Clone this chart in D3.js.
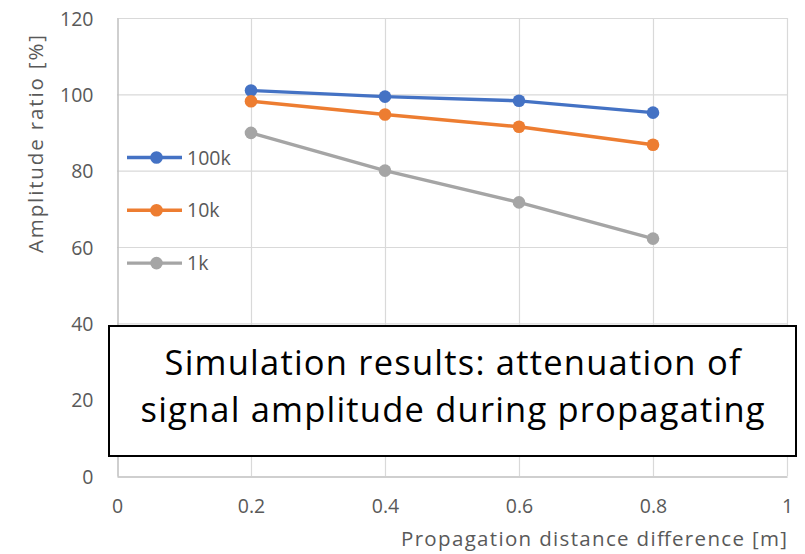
<!DOCTYPE html>
<html>
<head>
<meta charset="utf-8">
<script src="https://cdn.jsdelivr.net/npm/d3@7"></script>
<style>
  html, body { margin: 0; padding: 0; background: #fff; }
  svg { display: block; }
</style>
</head>
<body>
<svg id="chart" width="805" height="554"></svg>
<script>
// Propagation distance difference [m]
const distances = [0.2, 0.4, 0.6, 0.8];
// Amplitude ratio [%] per frequency
const amp100k = [101.0, 99.4, 98.3, 95.2];
const amp10k  = [98.2, 94.7, 91.5, 86.8];
const amp1k   = [89.9, 80.0, 71.7, 62.2];
const seriesNames = ["100k", "10k", "1k"];
const seriesColors = ["#4472C4", "#ED7D31", "#A5A5A5"];
const xTicks = [0, 0.2, 0.4, 0.6, 0.8, 1];
const yTicks = [0, 20, 40, 60, 80, 100, 120];
const titleLines = ["Simulation results: attenuation of", "signal amplitude during propagating"];

const series = [amp100k, amp10k, amp1k].map((vals, i) => ({
  name: seriesNames[i],
  color: seriesColors[i],
  points: vals.map((v, j) => ({ x: distances[j], y: v }))
}));

const svg = d3.select("#chart");
const font = "'Open Sans', 'Noto Sans', sans-serif";
const plotLeft = 117, plotRight = 787, plotTop = 18, plotBottom = 476;

const x = d3.scaleLinear().domain([0, 1]).range([plotLeft, plotRight]);
const y = d3.scaleLinear().domain([0, 120]).range([plotBottom, plotTop]);

// gridlines
const grid = svg.append("g");
grid.selectAll("line.h").data(yTicks.filter(t => t > 0)).join("line")
  .attr("x1", plotLeft).attr("x2", plotRight)
  .attr("y1", d => y(d) + 0.5).attr("y2", d => y(d) + 0.5)
  .attr("stroke", "#d9d9d9").attr("stroke-width", 1.2);
grid.selectAll("line.v").data(xTicks.filter(t => t > 0)).join("line")
  .attr("x1", d => Math.round(x(d)) + 0.5).attr("x2", d => Math.round(x(d)) + 0.5)
  .attr("y1", plotTop).attr("y2", plotBottom)
  .attr("stroke", "#d9d9d9").attr("stroke-width", 1.2);

// axes
const xAxis = d3.axisBottom(x).tickValues(xTicks).tickSize(0).tickPadding(22)
  .tickFormat(d => d3.format("")(d));
const yAxis = d3.axisLeft(y).tickValues(yTicks).tickSize(0).tickPadding(12);

const gx = svg.append("g").attr("transform", `translate(0,${plotBottom + 0.5})`).call(xAxis);
const gy = svg.append("g").attr("transform", `translate(${plotLeft + 0.5},0)`).call(yAxis);
[gx, gy].forEach(g => {
  g.select(".domain").attr("stroke", "#bfbfbf").attr("stroke-width", 1.5);
  g.selectAll("text").attr("fill", "#595959").attr("font-family", font).attr("font-size", 19.5);
});
gy.selectAll("text").attr("x", -24).attr("dy", "0.36em");
gx.selectAll("text").attr("y", 22).attr("dy", "0.74em");

// axis titles
svg.append("text")
  .attr("x", plotRight).attr("y", 546)
  .attr("text-anchor", "end")
  .attr("font-family", font).attr("font-size", 20.5).attr("fill", "#595959")
  .attr("textLength", 386).attr("lengthAdjust", "spacing")
  .text("Propagation distance difference [m]");
svg.append("text")
  .attr("transform", `translate(43,144) rotate(-90)`)
  .attr("text-anchor", "middle")
  .attr("font-family", font).attr("font-size", 20.5).attr("fill", "#595959")
  .attr("textLength", 218).attr("lengthAdjust", "spacing")
  .text("Amplitude ratio [%]");

// series lines and markers
const line = d3.line().x(d => x(d.x)).y(d => y(d.y));
const sg = svg.append("g").selectAll("g").data(series).join("g");
sg.append("path")
  .attr("d", d => line(d.points))
  .attr("fill", "none").attr("stroke", d => d.color).attr("stroke-width", 3.4)
  .attr("stroke-linejoin", "round");
sg.selectAll("circle").data(d => d.points.map(p => ({ ...p, color: d.color }))).join("circle")
  .attr("cx", d => x(d.x)).attr("cy", d => y(d.y)).attr("r", 6.3)
  .attr("fill", d => d.color);

// legend
const legend = svg.append("g").selectAll("g").data(series).join("g")
  .attr("transform", (d, i) => `translate(127,${157.5 + i * 52.8})`);
legend.append("line").attr("x1", 0).attr("x2", 55)
  .attr("stroke", d => d.color).attr("stroke-width", 3.4);
legend.append("circle").attr("cx", 29.5).attr("r", 6.3).attr("fill", d => d.color);
legend.append("text").attr("x", 60).attr("dy", "0.36em")
  .attr("font-family", font).attr("font-size", 19.5).attr("fill", "#595959")
  .text(d => d.name);

// title box
const box = svg.append("g");
box.append("rect")
  .attr("x", 109).attr("y", 326).attr("width", 687).attr("height", 130)
  .attr("fill", "#fff").attr("stroke", "#000").attr("stroke-width", 2);
box.selectAll("text").data(titleLines).join("text")
  .attr("x", 452.5).attr("y", (d, i) => 375 + i * 47)
  .attr("text-anchor", "middle")
  .attr("font-family", font).attr("font-size", 34.5).attr("fill", "#000")
  .attr("textLength", (d, i) => i === 0 ? 576 : 624).attr("lengthAdjust", "spacing")
  .text(d => d);
</script>
</body>
</html>
